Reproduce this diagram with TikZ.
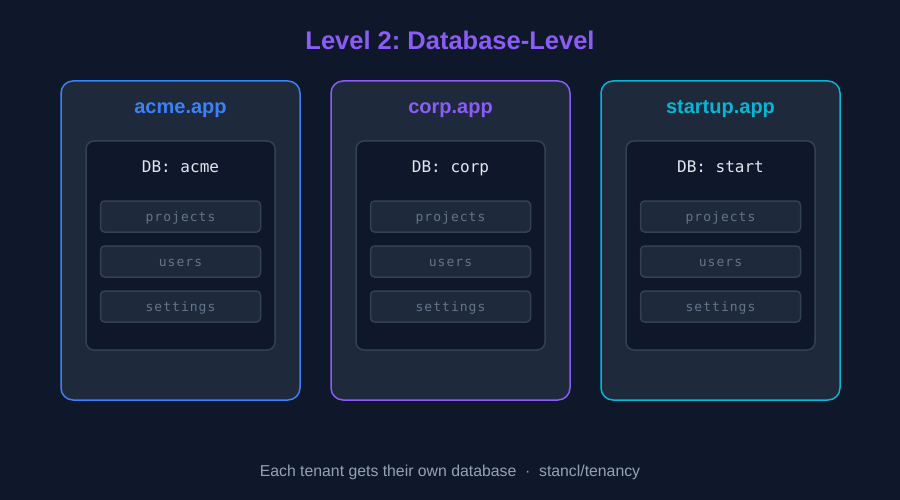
\documentclass[tikz,border=0pt]{standalone}
\usepackage{fontspec}
\setmainfont{Liberation Sans}
\frenchspacing
\newfontfamily\monof{DejaVu Sans Mono}
\newfontfamily\monotab[LetterSpace=8]{DejaVu Sans Mono}
\definecolor{bg}{HTML}{0F172A}
\definecolor{card}{HTML}{1E293B}
\definecolor{edge}{HTML}{334155}
\definecolor{cblue}{HTML}{3B82F6}
\definecolor{cpurple}{HTML}{8B5CF6}
\definecolor{ccyan}{HTML}{06B6D4}
\definecolor{dbtext}{HTML}{E2E8F0}
\definecolor{tabtext}{HTML}{64748B}
\definecolor{foot}{HTML}{94A3B8}
\tikzset{
  tenant/.style={draw=#1, line width=1.5pt, fill=card, rounded corners=12pt, minimum width=239pt, minimum height=319pt, inner sep=0pt},
  dbbox/.style={draw=edge, line width=1.5pt, fill=bg, rounded corners=8pt, minimum width=189pt, minimum height=209pt, inner sep=0pt},
  tablebox/.style={draw=edge, line width=1.5pt, fill=card, rounded corners=4pt, minimum width=160pt, minimum height=31pt, inner sep=0pt, text=tabtext, font=\fontsize{13}{15}\monotab, text height=10pt, text depth=1pt},
  tenanttitle/.style={font=\fontsize{20}{24}\selectfont\bfseries, text=#1},
  dbtitle/.style={font=\fontsize{16}{19}\monof, text=dbtext}
}
\begin{document}
\begin{tikzpicture}[x=1pt,y=-1pt]
\fill[bg] (0,0) rectangle (900,500);
\useasboundingbox (0,0) rectangle (900,500);
\node[font=\fontsize{25.5}{30}\selectfont\bfseries, text=cpurple] (title) at (450,40) {Level 2: Database-Level};
\foreach \cx/\col/\name/\db/\id in {180.5/cblue/acme.app/acme/a, 450.5/cpurple/corp.app/corp/b, 720.5/ccyan/startup.app/start/c}{
  \node[tenant=\col] (ten\id) at (\cx,240.5) {};
  \node[tenanttitle=\col, anchor=base] (tt\id) at (\cx,114) {\name};
  \node[dbbox] (db\id) at (\cx,245.5) {};
  \node[dbtitle, anchor=base] (dbt\id) at (\cx,173) {DB: \db};
  \node[tablebox] (p\id) at (\cx,216.5) {projects};
  \node[tablebox] (u\id) at (\cx,261.5) {users};
  \node[tablebox] (s\id) at (\cx,306.5) {settings};
}
\node[font=\fontsize{15.8}{19}\selectfont, text=foot, anchor=base] (footer) at (450,476) {Each tenant gets their own database \ ·\ \ stancl/tenancy};
\end{tikzpicture}
\end{document}
